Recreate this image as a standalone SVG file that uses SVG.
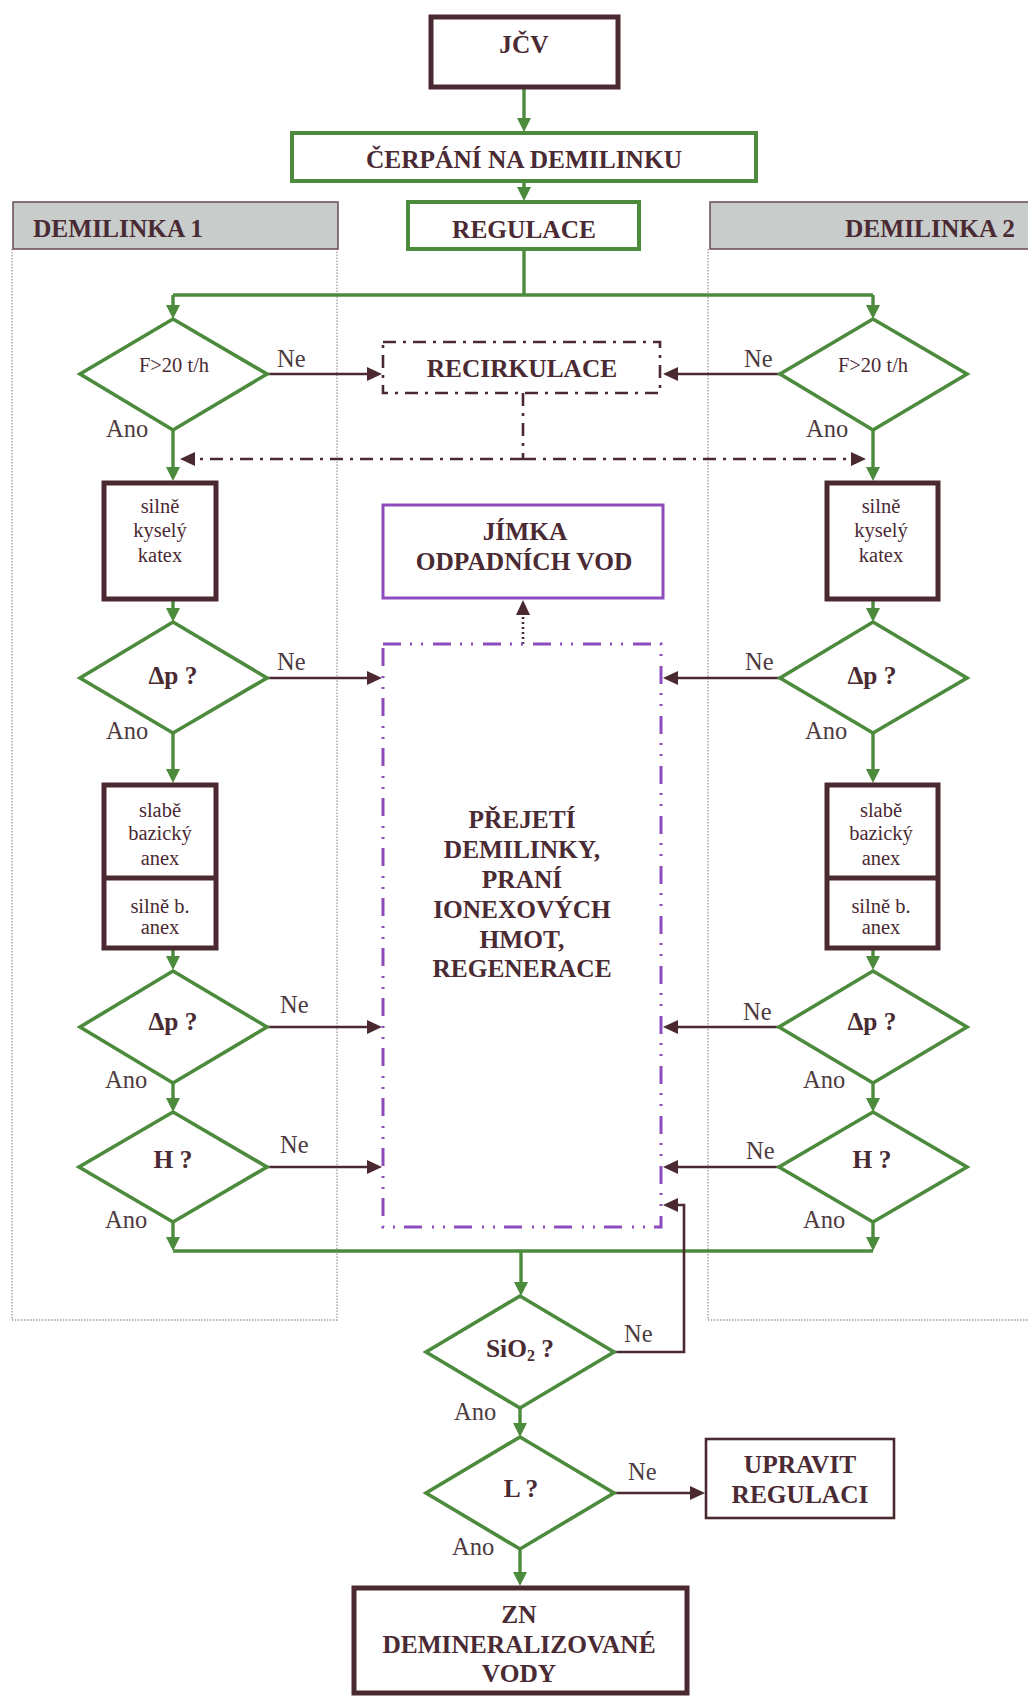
<svg xmlns="http://www.w3.org/2000/svg" width="1028" height="1697" viewBox="0 0 1028 1697">
  <defs>
    <style>
      .txt { font-family: "Liberation Serif", "Times New Roman", serif; fill: #4a2a33; }
      .ttl { font-size: 25.4px; font-weight: bold; text-anchor: middle; }
      .sm { font-size: 20.5px; text-anchor: middle; }
      .lab { font-size: 24.5px; fill: #4d3a3f; }
      .dia { fill: #fff; stroke: #4c8a3c; stroke-width: 3.6; stroke-linejoin: miter; }
      .boxB { fill: #fff; stroke: #4a2a30; stroke-width: 5; }
      .boxG { fill: #fff; stroke: #4c8a3c; stroke-width: 4; }
      .boxP { fill: #fff; stroke: #8c4cbe; stroke-width: 3; }
      .hdr { fill: #c8cccb; stroke: #6a4a58; stroke-width: 1.5; }
      .lane { fill: none; stroke: #9a9a9a; stroke-width: 1.3; stroke-dasharray: 1.5 1.5; }
      .cg { fill: none; stroke: #4c8a3c; stroke-width: 3.4; }
      .cb { fill: none; stroke: #4a2a30; stroke-width: 2.6; }
      .cbd { fill: none; stroke: #4a2a30; stroke-width: 2.6; stroke-dasharray: 13 7 3 7; }
      .cbdot { fill: none; stroke: #4a2a30; stroke-width: 2.6; stroke-dasharray: 2 3; }
    </style>
    <marker id="ag" markerUnits="userSpaceOnUse" viewBox="0 0 14 14" markerWidth="14" markerHeight="14" refX="6" refY="7" orient="auto">
      <path d="M0,0 L14,7 L0,14 z" fill="#4c8a3c"/>
    </marker>
    <marker id="ab" markerUnits="userSpaceOnUse" viewBox="0 0 15 14" markerWidth="15" markerHeight="14" refX="6" refY="7" orient="auto">
      <path d="M0,0 L15,7 L0,14 z" fill="#4a2a30"/>
    </marker>
  </defs>

  <rect width="1028" height="1697" fill="#fff"/>

  <!-- swimlanes -->
  <g id="lane-1">
    <path class="lane" d="M12,249 V1320 H337 V249"/>
    <rect class="hdr" x="13" y="202" width="325" height="47"/>
    <text class="txt" x="33" y="237" font-size="25.4" font-weight="bold">DEMILINKA 1</text>
  </g>
  <g id="lane-2">
    <path class="lane" d="M708,249 V1320 H1030"/>
    <rect class="hdr" x="710" y="202" width="330" height="47"/>
    <text class="txt" x="1015" y="237" font-size="25.4" font-weight="bold" text-anchor="end">DEMILINKA 2</text>
  </g>

  <!-- connectors -->
  <g id="connectors">
    <!-- main green flow -->
    <path class="cg" d="M524,88 V124" marker-end="url(#ag)"/>
    <path class="cg" d="M524,181 V193" marker-end="url(#ag)"/>
    <path class="cg" d="M524,249 V295"/>
    <path class="cg" d="M173,295 H873"/>
    <path class="cg" d="M173,295 V311" marker-end="url(#ag)"/>
    <path class="cg" d="M873,295 V311" marker-end="url(#ag)"/>

    <path class="cg" d="M173,430 V473" marker-end="url(#ag)"/>
    <path class="cg" d="M873,430 V473" marker-end="url(#ag)"/>
    <path class="cg" d="M173,601 V614" marker-end="url(#ag)"/>
    <path class="cg" d="M873,601 V614" marker-end="url(#ag)"/>
    <path class="cg" d="M173,733 V775" marker-end="url(#ag)"/>
    <path class="cg" d="M873,733 V775" marker-end="url(#ag)"/>
    <path class="cg" d="M173,950 V962" marker-end="url(#ag)"/>
    <path class="cg" d="M873,950 V962" marker-end="url(#ag)"/>
    <path class="cg" d="M173,1083 V1104" marker-end="url(#ag)"/>
    <path class="cg" d="M873,1083 V1104" marker-end="url(#ag)"/>
    <path class="cg" d="M173,1222 V1243" marker-end="url(#ag)"/>
    <path class="cg" d="M873,1222 V1243" marker-end="url(#ag)"/>
    <path class="cg" d="M173,1251 H873"/>
    <path class="cg" d="M521,1251 V1288" marker-end="url(#ag)"/>
    <path class="cg" d="M520,1408 V1429" marker-end="url(#ag)"/>
    <path class="cg" d="M520,1549 V1578" marker-end="url(#ag)"/>

    <!-- recirculation -->
    <path class="cb" d="M267,374 H373" marker-end="url(#ab)"/>
    <path class="cb" d="M780,374 H672" marker-end="url(#ab)"/>
    <path class="cbd" d="M523,393 V459"/>
    <path class="cbd" d="M523,459 H189" marker-end="url(#ab)"/>
    <path class="cbd" d="M523,459 H857" marker-end="url(#ab)"/>

    <!-- failed checks go to regeneration -->
    <path class="cb" d="M267,678 H373" marker-end="url(#ab)"/>
    <path class="cb" d="M780,678 H672" marker-end="url(#ab)"/>
    <path class="cb" d="M267,1027 H373" marker-end="url(#ab)"/>
    <path class="cb" d="M779,1027 H672" marker-end="url(#ab)"/>
    <path class="cb" d="M267,1167 H373" marker-end="url(#ab)"/>
    <path class="cb" d="M779,1167 H672" marker-end="url(#ab)"/>
    <path class="cb" d="M614,1352 H684 V1205 H672" marker-end="url(#ab)"/>
    <path class="cb" d="M614,1493 H696" marker-end="url(#ab)"/>

    <!-- waste water -->
    <path class="cbdot" d="M523,644 V609" marker-end="url(#ab)"/>
  </g>

  <!-- nodes -->
  <g id="n-jcv">
    <rect class="boxB" x="431" y="17" width="187" height="70"/>
    <text class="txt ttl" x="524" y="53">JČV</text>
  </g>
  <g id="n-cerpani">
    <rect class="boxG" x="292" y="133" width="464" height="48"/>
    <text class="txt ttl" x="524" y="168">ČERPÁNÍ NA DEMILINKU</text>
  </g>
  <g id="n-regulace">
    <rect class="boxG" x="408" y="202" width="231" height="47"/>
    <text class="txt ttl" x="524" y="238">REGULACE</text>
  </g>
  <g id="n-recirkulace">
    <rect x="383" y="342" width="277" height="51" fill="#fff" stroke="#4a2a30" stroke-width="2.6" stroke-dasharray="13 7 3 7"/>
    <text class="txt ttl" x="522" y="377">RECIRKULACE</text>
  </g>
  <g id="n-jimka">
    <rect class="boxP" x="383" y="505" width="280" height="93"/>
    <text class="txt ttl" x="525" y="540">JÍMKA</text>
    <text class="txt ttl" x="524" y="570">ODPADNÍCH VOD</text>
  </g>
  <g id="n-regenerace">
    <rect x="383" y="644" width="278" height="583" fill="none" stroke="#8c4cbe" stroke-width="3" stroke-dasharray="18 9 2 9 2 10"/>
    <text class="txt ttl" x="522" y="828">PŘEJETÍ</text>
    <text class="txt ttl" x="522" y="858">DEMILINKY,</text>
    <text class="txt ttl" x="522" y="888">PRANÍ</text>
    <text class="txt ttl" x="522" y="918">IONEXOVÝCH</text>
    <text class="txt ttl" x="522" y="948">HMOT,</text>
    <text class="txt ttl" x="522" y="977">REGENERACE</text>
  </g>

  <!-- line 1 -->
  <g id="n-f1">
    <path class="dia" d="M173,319 L267,374 L173,430 L80,374 Z"/>
    <text class="txt sm" x="174" y="372">F&gt;20 t/h</text>
    <text class="txt lab" x="277" y="367">Ne</text>
    <text class="txt lab" x="106" y="437">Ano</text>
  </g>
  <g id="n-katex1">
    <rect class="boxB" x="104" y="483" width="112" height="116"/>
    <text class="txt sm" x="160" y="513">silně</text>
    <text class="txt sm" x="160" y="537">kyselý</text>
    <text class="txt sm" x="160" y="562">katex</text>
  </g>
  <g id="n-dp1a">
    <path class="dia" d="M173,622 L267,678 L173,733 L80,678 Z"/>
    <text class="txt ttl" x="173" y="684">Δp ?</text>
    <text class="txt lab" x="277" y="670">Ne</text>
    <text class="txt lab" x="106" y="739">Ano</text>
  </g>
  <g id="n-anex1">
    <rect class="boxB" x="104" y="785" width="112" height="163"/>
    <line x1="104" y1="878" x2="216" y2="878" stroke="#4a2a30" stroke-width="5"/>
    <text class="txt sm" x="160" y="817">slabě</text>
    <text class="txt sm" x="160" y="840">bazický</text>
    <text class="txt sm" x="160" y="865">anex</text>
    <text class="txt sm" x="160" y="913">silně b.</text>
    <text class="txt sm" x="160" y="934">anex</text>
  </g>
  <g id="n-dp1b">
    <path class="dia" d="M173,971 L267,1027 L173,1083 L80,1027 Z"/>
    <text class="txt ttl" x="173" y="1030">Δp ?</text>
    <text class="txt lab" x="280" y="1013">Ne</text>
    <text class="txt lab" x="105" y="1088">Ano</text>
  </g>
  <g id="n-h1">
    <path class="dia" d="M173,1112 L267,1167 L173,1222 L79,1167 Z"/>
    <text class="txt ttl" x="173" y="1168">H ?</text>
    <text class="txt lab" x="280" y="1153">Ne</text>
    <text class="txt lab" x="105" y="1228">Ano</text>
  </g>

  <!-- line 2 -->
  <g id="n-f2">
    <path class="dia" d="M873,319 L967,374 L873,430 L780,374 Z"/>
    <text class="txt sm" x="873" y="372">F&gt;20 t/h</text>
    <text class="txt lab" x="744" y="367">Ne</text>
    <text class="txt lab" x="806" y="437">Ano</text>
  </g>
  <g id="n-katex2">
    <rect class="boxB" x="827" y="483" width="111" height="116"/>
    <text class="txt sm" x="881" y="513">silně</text>
    <text class="txt sm" x="881" y="537">kyselý</text>
    <text class="txt sm" x="881" y="562">katex</text>
  </g>
  <g id="n-dp2a">
    <path class="dia" d="M873,622 L967,678 L873,733 L780,678 Z"/>
    <text class="txt ttl" x="872" y="684">Δp ?</text>
    <text class="txt lab" x="745" y="670">Ne</text>
    <text class="txt lab" x="805" y="739">Ano</text>
  </g>
  <g id="n-anex2">
    <rect class="boxB" x="827" y="785" width="111" height="163"/>
    <line x1="827" y1="878" x2="938" y2="878" stroke="#4a2a30" stroke-width="5"/>
    <text class="txt sm" x="881" y="817">slabě</text>
    <text class="txt sm" x="881" y="840">bazický</text>
    <text class="txt sm" x="881" y="865">anex</text>
    <text class="txt sm" x="881" y="913">silně b.</text>
    <text class="txt sm" x="881" y="934">anex</text>
  </g>
  <g id="n-dp2b">
    <path class="dia" d="M873,971 L967,1027 L873,1083 L779,1027 Z"/>
    <text class="txt ttl" x="872" y="1030">Δp ?</text>
    <text class="txt lab" x="743" y="1020">Ne</text>
    <text class="txt lab" x="803" y="1088">Ano</text>
  </g>
  <g id="n-h2">
    <path class="dia" d="M873,1112 L967,1167 L873,1222 L779,1167 Z"/>
    <text class="txt ttl" x="872" y="1168">H ?</text>
    <text class="txt lab" x="746" y="1159">Ne</text>
    <text class="txt lab" x="803" y="1228">Ano</text>
  </g>

  <!-- common output -->
  <g id="n-sio2">
    <path class="dia" d="M520,1296 L614,1352 L520,1408 L426,1352 Z"/>
    <text class="txt ttl" x="520" y="1357">SiO<tspan font-size="16" dy="4">2</tspan><tspan dy="-4"> ?</tspan></text>
    <text class="txt lab" x="624" y="1342">Ne</text>
    <text class="txt lab" x="454" y="1420">Ano</text>
  </g>
  <g id="n-l">
    <path class="dia" d="M520,1437 L614,1493 L520,1549 L426,1493 Z"/>
    <text class="txt ttl" x="521" y="1497">L ?</text>
    <text class="txt lab" x="628" y="1480">Ne</text>
    <text class="txt lab" x="452" y="1555">Ano</text>
  </g>
  <g id="n-upravit">
    <rect x="706" y="1439" width="188" height="79" fill="#fff" stroke="#4a2a30" stroke-width="2.6"/>
    <text class="txt ttl" x="800" y="1473">UPRAVIT</text>
    <text class="txt ttl" x="800" y="1503">REGULACI</text>
  </g>
  <g id="n-zn">
    <rect class="boxB" x="354" y="1588" width="333" height="105"/>
    <text class="txt ttl" x="519" y="1623">ZN</text>
    <text class="txt ttl" x="519" y="1653">DEMINERALIZOVANÉ</text>
    <text class="txt ttl" x="519" y="1682">VODY</text>
  </g>
</svg>
